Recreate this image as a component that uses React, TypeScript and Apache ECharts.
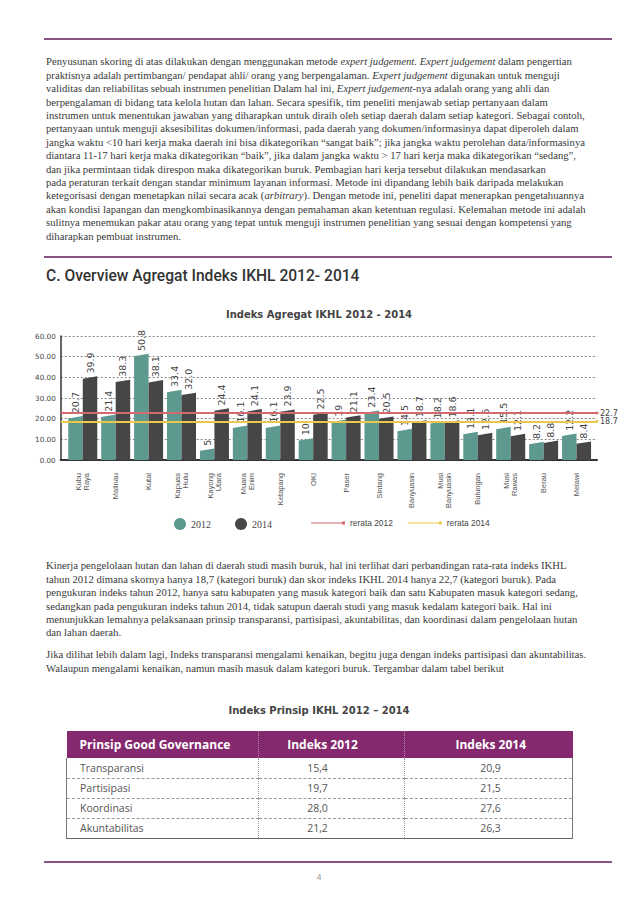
import React, { useEffect, useRef } from "react";
import * as echarts from "echarts";

// ---------- data ----------
const categories = [
  "Kubu\nRaya", "Malinau", "Kutai", "Kapuas\nHulu", "Kayong\nUtara", "Muara\nEnim",
  "Ketapang", "OKI", "Paser", "Sintang", "Banyuasin", "Musi\nBanyuasin",
  "Bulungan", "Musi\nRawas", "Berau", "Melawi",
];
const values2012 = ["20.7", "21.4", "50.8", "33.4", "5", "16.1", "16.1", "10", "19", "23.4", "14.5", "18.2", "13.1", "15.5", "8.2", "12.2"];
const values2014 = ["39.9", "38.3", "38.1", "32.0", "24.4", "24.1", "23.9", "22.5", "21.1", "20.5", "18.7", "18.6", "12.6", "12.1", "8.8", "8.4"];
const rerata2012 = 22.7;
const rerata2014 = 18.7;
const yMin = 0;
const yMax = 60;
const yInterval = 10;

const tableHeader = ["Prinsip Good Governance", "Indeks 2012", "Indeks 2014"];
const prinsip = ["Transparansi", "Partisipasi", "Koordinasi", "Akuntabilitas"];
const indeks2012 = ["15,4", "19,7", "28,0", "21,2"];
const indeks2014 = ["20,9", "21,5", "27,6", "26,3"];

const para1 = [
  "Penyusunan skoring di atas dilakukan dengan menggunakan metode *expert judgement. Expert judgement* dalam pengertian",
  "praktisnya adalah pertimbangan/ pendapat ahli/ orang yang berpengalaman. *Expert judgement* digunakan untuk menguji",
  "validitas dan reliabilitas sebuah instrumen penelitian Dalam hal ini, *Expert judgement*-nya adalah orang yang ahli dan",
  "berpengalaman di bidang tata kelola hutan dan lahan. Secara spesifik, tim peneliti menjawab setiap pertanyaan dalam",
  "instrumen untuk menentukan jawaban yang diharapkan untuk diraih oleh setiap daerah dalam setiap kategori. Sebagai contoh,",
  "pertanyaan untuk menguji aksesibilitas dokumen/informasi, pada daerah yang dokumen/informasinya dapat diperoleh dalam",
  "jangka waktu <10 hari kerja maka daerah ini bisa dikategorikan \u201csangat baik\u201d; jika jangka waktu perolehan data/informasinya",
  "diantara 11-17 hari kerja maka dikategorikan \u201cbaik\u201d, jika dalam jangka waktu > 17 hari kerja maka dikategorikan \u201csedang\u201d,",
  "dan jika permintaan tidak direspon maka dikategorikan buruk. Pembagian hari kerja tersebut dilakukan mendasarkan",
  "pada peraturan terkait dengan standar minimum layanan informasi. Metode ini dipandang lebih baik daripada melakukan",
  "ketegorisasi dengan menetapkan nilai secara acak (*arbitrary*). Dengan metode ini, peneliti dapat menerapkan pengetahuannya",
  "akan kondisi lapangan dan mengkombinasikannya dengan pemahaman akan ketentuan regulasi. Kelemahan metode ini adalah",
  "sulitnya menemukan pakar atau orang yang tepat untuk menguji instrumen penelitian yang sesuai dengan kompetensi yang",
  "diharapkan pembuat instrumen.",
];
const para2 = [
  "Kinerja pengelolaan hutan dan lahan di daerah studi masih buruk, hal ini terlihat dari perbandingan rata-rata indeks IKHL",
  "tahun 2012 dimana skornya hanya 18,7 (kategori buruk) dan skor indeks IKHL 2014 hanya 22,7 (kategori buruk). Pada",
  "pengukuran indeks tahun 2012, hanya satu kabupaten yang masuk kategori baik dan satu Kabupaten masuk kategori sedang,",
  "sedangkan pada pengukuran indeks tahun 2014, tidak satupun daerah studi yang masuk kedalam kategori baik. Hal ini",
  "menunjukkan lemahnya pelaksanaan prinsip transparansi, partisipasi, akuntabilitas, dan koordinasi dalam pengelolaan hutan",
  "dan lahan daerah.",
];
const para3 = [
  "Jika dilihat lebih dalam lagi, Indeks transparansi mengalami kenaikan, begitu juga dengan indeks partisipasi dan akuntabilitas.",
  "Walaupun mengalami kenaikan, namun masih masuk dalam kategori buruk. Tergambar dalam tabel berikut",
];

// ---------- styles ----------
const PURPLE_RULE = "#8a5280";
const HEADER_PURPLE = "#84296e";
const TEAL = "#5e9990";
const DARK = "#464646";
const RED = "#d6696f";
const YELLOW = "#e9c84a";
const serif = '"Liberation Serif", "Times New Roman", serif';
const sans = '"Open Sans", "DejaVu Sans", sans-serif';
const LH = 13.4;
const BAR_W = 14.5;

function renderRich(s: string) {
  const parts = s.split("*");
  return parts.map((p, i) =>
    i % 2 === 1 ? <i key={i}>{p}</i> : <React.Fragment key={i}>{p}</React.Fragment>
  );
}

function Paragraph({ lines, top }: { lines: string[]; top: number }) {
  return (
    <>
      {lines.map((l, i) => (
        <div
          key={i}
          style={{
            position: "absolute",
            left: 46,
            top: top + i * LH - LH / 2,
            height: LH,
            lineHeight: LH + "px",
            fontFamily: serif,
            fontSize: 10.7,
            color: "#3a3a3a",
            whiteSpace: "pre",
          }}
        >
          {renderRich(l)}
        </div>
      ))}
    </>
  );
}

function Rule({ y }: { y: number }) {
  return (
    <div style={{ position: "absolute", left: 44, width: 568, top: y - 1, height: 2, background: PURPLE_RULE }} />
  );
}

function Chart() {
  const ref = useRef<HTMLDivElement>(null);
  useEffect(() => {
    if (!ref.current) return;
    const chart = echarts.init(ref.current, undefined, { renderer: "svg" });
    const gridTop = 46;
    const gridBottom = 90;

    // slanted-top bar, drawn through the axes' own coordinate system
    const barSeries = (name: string, labels: string[], color: string, side: number) => ({
      name,
      type: "custom",
      xAxisIndex: 0,
      yAxisIndex: 0,
      itemStyle: { color },
      encode: { x: 0, y: 1 },
      data: labels.map((v, i) => [i, Number(v)]),
      renderItem: (params: any, api: any) => {
        const idx = api.value(0);
        const val = api.value(1);
        const base = api.coord([idx, 0]);
        const top = api.coord([idx, val]);
        const x0 = side < 0 ? base[0] - BAR_W : base[0];
        const x1 = x0 + BAR_W;
        const yb = base[1];
        const yt = top[1];
        return {
          type: "group",
          children: [
            {
              type: "polygon",
              shape: {
                points: [
                  [x0, yb],
                  [x0, Math.min(yb, yt + 1.2)],
                  [x1, Math.min(yb, yt - 1.2)],
                  [x1, yb],
                ],
              },
              style: { fill: color },
            },
            {
              type: "text",
              x: (x0 + x1) / 2,
              y: yt - 4,
              rotation: Math.PI / 2,
              style: {
                text: labels[idx],
                fill: "#444",
                fontFamily: "DejaVu Sans",
                fontSize: 9.5,
                align: "left",
                verticalAlign: "middle",
              },
            },
          ],
        };
      },
    });

    const avgLine = (name: string, value: number, color: string) => ({
      name,
      type: "line",
      xAxisIndex: 1,
      yAxisIndex: 1,
      data: [],
      z: 5,
      itemStyle: { color },
      lineStyle: { color, width: 2 },
      markLine: {
        silent: true,
        symbol: ["none", "circle"],
        symbolSize: 3,
        data: [{ yAxis: value }],
        lineStyle: { color, width: 2, type: "solid" },
        label: {
          show: true,
          position: "end",
          distance: 3,
          formatter: String(value),
          fontFamily: "DejaVu Sans",
          fontSize: 8,
          color: "#444",
        },
      },
    });

    chart.setOption({
      animation: false,
      title: {
        text: "Indeks Agregat IKHL 2012 - 2014",
        left: "center",
        top: 14,
        textStyle: { fontFamily: "DejaVu Sans", fontWeight: "bold", fontSize: 10, color: "#444" },
      },
      legend: [
        {
          data: ["2012", "2014"],
          icon: "circle",
          itemWidth: 12,
          itemHeight: 12,
          left: 169,
          top: 223,
          itemGap: 24,
          textStyle: { fontFamily: "Liberation Serif", fontSize: 10, color: "#444" },
        },
        {
          data: ["rerata 2012", "rerata 2014"],
          icon: "path://M0,2.4H31V3.6H0Z M31,1.5H34V4.5H31Z",
          itemWidth: 34,
          itemHeight: 5,
          left: 306,
          top: 224,
          itemGap: 15,
          textStyle: { fontFamily: "Liberation Sans", fontSize: 8.4, color: "#444" },
        },
      ],
      grid: [
        { left: 66.3, right: 45, top: gridTop, bottom: gridBottom },
        { left: 60.7, right: 41, top: gridTop, bottom: gridBottom },
      ],
      xAxis: [
        {
          type: "category",
          gridIndex: 0,
          data: categories,
          axisLine: { show: false },
          axisTick: { show: false },
          axisLabel: {
            rotate: 90,
            interval: 0,
            margin: 13,
            fontSize: 7.5,
            lineHeight: 8,
            color: "#555",
            fontFamily: "Liberation Sans",
          },
        },
        {
          type: "value",
          gridIndex: 1,
          min: 0,
          max: 1,
          axisLine: { show: true, onZero: false, lineStyle: { color: "#333", width: 2 } },
          axisTick: { show: false },
          axisLabel: { show: false },
          splitLine: { show: false },
        },
      ],
      yAxis: [
        { type: "value", gridIndex: 0, min: yMin, max: yMax, interval: yInterval, show: false, splitLine: { show: false } },
        {
          type: "value",
          gridIndex: 1,
          min: yMin,
          max: yMax,
          interval: yInterval,
          axisLine: { show: true, lineStyle: { color: "#333", width: 1.5 } },
          axisTick: { show: false },
          axisLabel: {
            formatter: (v: number) => v.toFixed(2),
            fontFamily: "DejaVu Sans",
            fontSize: 7.2,
            color: "#444",
            margin: 5,
          },
          splitLine: { show: true, lineStyle: { type: [2, 2], color: "#888", width: 1 } },
        },
      ],
      series: [
        barSeries("2012", values2012, TEAL, -1),
        barSeries("2014", values2014, DARK, 1),
        avgLine("rerata 2012", rerata2012, RED),
        avgLine("rerata 2014", rerata2014, YELLOW),
      ],
    });
    return () => chart.dispose();
  }, []);
  return <div ref={ref} style={{ position: "absolute", left: 0, top: 290, width: 638, height: 260 }} />;
}

function Table() {
  const cellBase: React.CSSProperties = { padding: 0, whiteSpace: "nowrap" };
  const bodyBorder = "1px dashed #999";
  return (
    <table
      style={{
        position: "absolute",
        left: 66,
        top: 731,
        width: 506,
        borderCollapse: "collapse",
        fontFamily: sans,
        fontSize: 10.5,
        color: "#555",
        tableLayout: "fixed",
      }}
    >
      <colgroup>
        <col style={{ width: 192 }} />
        <col style={{ width: 146 }} />
        <col style={{ width: 168 }} />
      </colgroup>
      <thead>
        <tr style={{ height: 27, background: HEADER_PURPLE, color: "#fff", fontWeight: 700, fontSize: 12 }}>
          <th style={{ ...cellBase, textAlign: "left", paddingLeft: 13, borderRight: "1px dotted #b98aad" }}>{tableHeader[0]}</th>
          <th style={{ ...cellBase, textAlign: "center", paddingRight: 18, borderRight: "1px dotted #b98aad" }}>{tableHeader[1]}</th>
          <th style={{ ...cellBase, textAlign: "center", paddingLeft: 4 }}>{tableHeader[2]}</th>
        </tr>
      </thead>
      <tbody>
        {prinsip.map((p, i) => {
          const last = i === prinsip.length - 1;
          const bottom = last ? "1px solid #666" : bodyBorder;
          return (
            <tr key={p} style={{ height: 20 }}>
              <td style={{ ...cellBase, paddingLeft: 13, borderLeft: "1px solid #777", borderRight: "1px dotted #999", borderBottom: bottom }}>{p}</td>
              <td style={{ ...cellBase, textAlign: "center", paddingRight: 28, borderRight: "1px dotted #999", borderBottom: bottom }}>{indeks2012[i]}</td>
              <td style={{ ...cellBase, textAlign: "center", paddingLeft: 4, borderRight: "1px solid #777", borderBottom: bottom }}>{indeks2014[i]}</td>
            </tr>
          );
        })}
      </tbody>
    </table>
  );
}

export default function App() {
  return (
    <div style={{ position: "absolute", left: 0, top: 0, width: 638, height: 903, background: "#fff", overflow: "hidden" }}>
      <Rule y={38.5} />
      <Paragraph lines={para1} top={62} />
      <Rule y={257} />
      <div
        style={{
          position: "absolute",
          left: 46,
          top: 266,
          fontFamily: "Roboto, sans-serif",
          fontSize: 15.6,
          fontWeight: 500,
          color: "#333",
          lineHeight: "20px",
          whiteSpace: "pre",
        }}
      >
        C. Overview Agregat Indeks IKHL 2012- 2014
      </div>
      <Chart />
      <Paragraph lines={para2} top={566} />
      <Paragraph lines={para3} top={655} />
      <div
        style={{
          position: "absolute",
          left: 0,
          width: 638,
          top: 704,
          textAlign: "center",
          fontFamily: "DejaVu Sans, sans-serif",
          fontWeight: 700,
          fontSize: 10,
          color: "#444",
          lineHeight: "14px",
        }}
      >
        Indeks Prinsip IKHL 2012 {"\u2013"} 2014
      </div>
      <Table />
      <Rule y={862} />
      <div
        style={{
          position: "absolute",
          left: 0,
          width: 638,
          top: 871,
          textAlign: "center",
          fontFamily: "Liberation Sans, sans-serif",
          fontSize: 9,
          color: "#999",
          lineHeight: "12px",
        }}
      >
        4
      </div>
    </div>
  );
}
